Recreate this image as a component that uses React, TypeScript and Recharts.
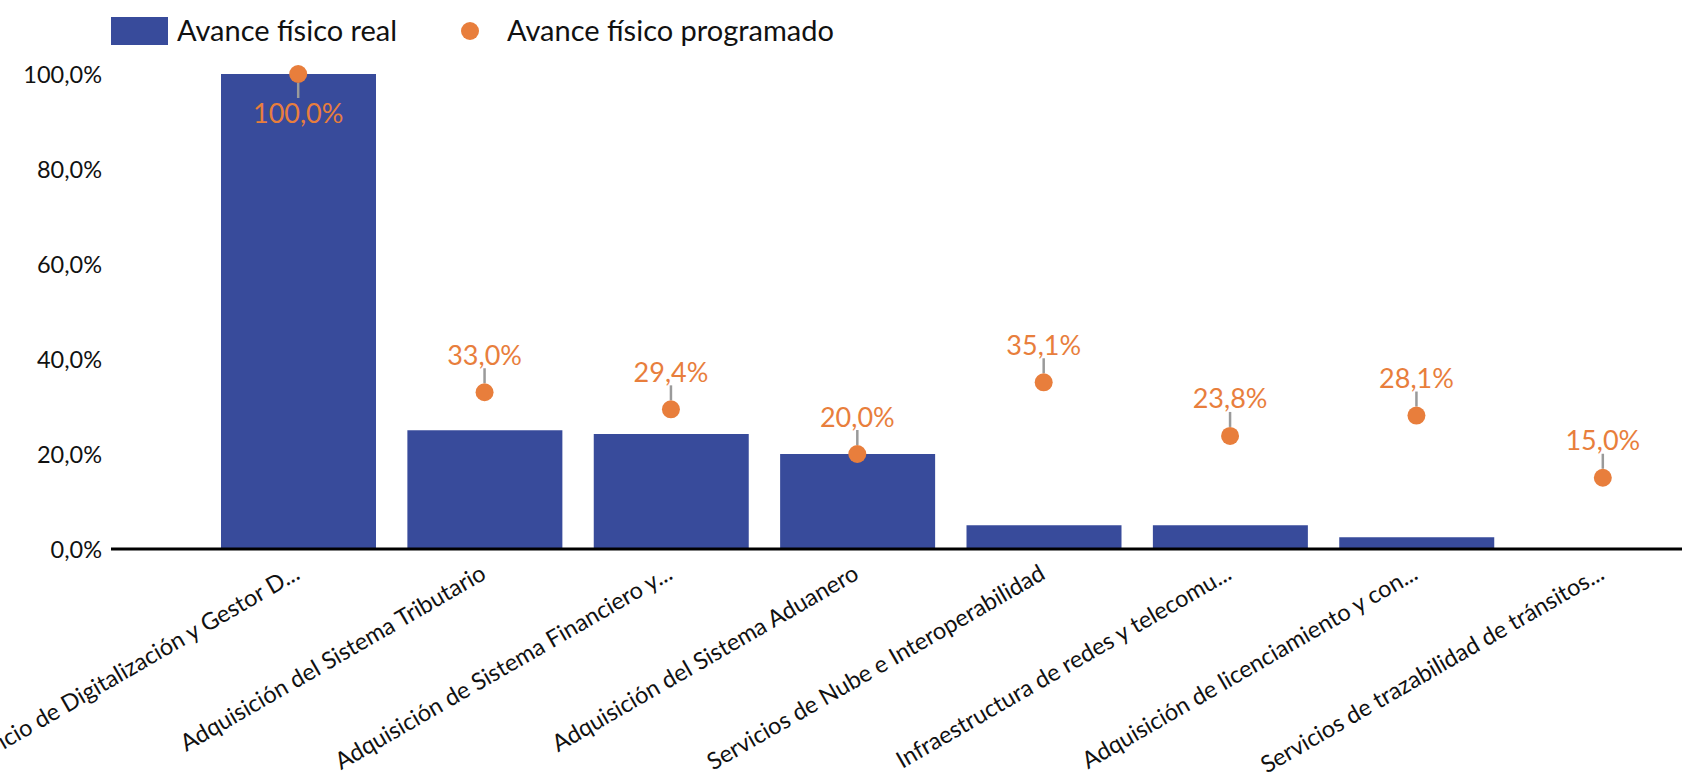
import React from 'react';
import { ComposedChart, Bar, Line, XAxis, YAxis, Legend } from 'recharts';

const BLUE = '#384b9b';
const ORANGE = '#e87e3c';
const FONT = 'Lato, "Noto Sans", sans-serif';

const categories = [
  'Servicio de Digitalización y Gestor D...',
  'Adquisición del Sistema Tributario',
  'Adquisición de Sistema Financiero y...',
  'Adquisición del Sistema Aduanero',
  'Servicios de Nube e Interoperabilidad',
  'Infraestructura de redes y telecomu...',
  'Adquisición de licenciamiento y con...',
  'Servicios de trazabilidad de tránsitos...',
];
const realValues = [100, 25.0, 24.2, 20.0, 5.0, 5.0, 2.5, 0];
const plannedValues = [100, 33.0, 29.4, 20.0, 35.1, 23.8, 28.1, 15.0];
const yTicks = [0, 20, 40, 60, 80, 100];

const data = categories.map((name, i) => ({
  name,
  real: realValues[i],
  planned: plannedValues[i],
}));

const fmt = (v: number) => v.toFixed(1).replace('.', ',') + '%';

const PointMark = (props: any) => {
  const { cx, cy, value, index } = props;
  if (cx == null || cy == null) return null;
  const dir = value >= 90 ? 1 : -1;
  return (
    <g key={`pt-${index}`}>
      <line x1={cx} x2={cx} y1={cy + dir * 9} y2={cy + dir * 24} stroke="#9a9a9a" strokeWidth={2.5} />
      <circle cx={cx} cy={cy} r={9} fill={ORANGE} />
      <text x={cx} y={cy + dir * 38} textAnchor="middle" dominantBaseline="central"
        fill={ORANGE} fontSize={27} fontFamily={FONT}>
        {fmt(value)}
      </text>
    </g>
  );
};

const YTick = (props: any) => {
  const { x, y, payload } = props;
  return (
    <text x={x} y={y} textAnchor="end" dominantBaseline="central" fill="#111" fontSize={23.5} fontFamily={FONT}>
      {fmt(payload.value)}
    </text>
  );
};

// baseline end of each rotated label sits just under the axis, right of the band centre
const XTick = (props: any) => {
  const { x, y, payload } = props;
  const ox = x + 3;
  const oy = y + 21;
  return (
    <text x={ox} y={oy} textAnchor="end" transform={`rotate(-30 ${ox} ${oy})`}
      fill="#111" fontSize={23.5} fontFamily={FONT}>
      {payload.value}
    </text>
  );
};

const LegendBox = () => (
  <div style={{ position: 'relative', width: 1682, height: 60, fontFamily: FONT, fontSize: 29, color: '#111' }}>
    <span style={{ position: 'absolute', left: 111, top: 17, width: 57, height: 28, background: BLUE }} />
    <span style={{ position: 'absolute', left: 177, top: 12, lineHeight: '36px', whiteSpace: 'nowrap' }}>Avance físico real</span>
    <span style={{ position: 'absolute', left: 461, top: 22, width: 18, height: 18, borderRadius: '50%', background: ORANGE }} />
    <span style={{ position: 'absolute', left: 507, top: 12, lineHeight: '36px', whiteSpace: 'nowrap' }}>Avance físico programado</span>
  </div>
);

export default function App() {
  return (
    <div style={{ position: 'absolute', left: 0, top: 0, width: 1682, height: 772, overflow: 'hidden', background: '#fff' }}>
      <ComposedChart width={1696} height={772} data={data} margin={{ top: 74, right: 0, left: 0, bottom: 0 }}>
        <Legend layout="horizontal" verticalAlign="middle" align="center"
          wrapperStyle={{ top: 0, left: 0, width: 1682, height: 60 }} content={<LegendBox />} />
        <XAxis dataKey="name" height={223} interval={0} padding={{ left: 94, right: 0 }}
          axisLine={{ stroke: '#000', strokeWidth: 3 }} tickLine={false} tick={<XTick />} />
        <YAxis width={111} domain={[0, 100]} ticks={yTicks} axisLine={false} tickLine={false}
          tickSize={0} tickMargin={9} tick={<YTick />} />
        <Bar dataKey="real" fill={BLUE} barSize={155} isAnimationActive={false} />
        <Line dataKey="planned" stroke="none" dot={<PointMark />} activeDot={false} isAnimationActive={false} />
      </ComposedChart>
    </div>
  );
}
